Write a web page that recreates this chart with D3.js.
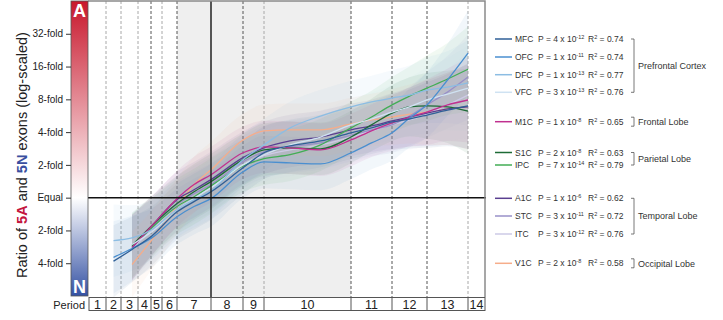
<!DOCTYPE html>
<html>
<head>
<meta charset="utf-8">
<script src="https://cdn.jsdelivr.net/npm/d3@7"></script>
<style>
  html, body { margin: 0; padding: 0; background: #fff; }
  svg { display: block; font-family: "Liberation Sans", Arial, Helvetica, sans-serif; }
</style>
</head>
<body>
<svg id="chart" width="723" height="320"></svg>
<script>
// ---- data -------------------------------------------------------------
// sample positions along the developmental axis (period units: period k spans k-1..k)
const agePos = [1.5, 2.65, 4.1, 6, 6.5, 7, 8, 9, 9.3, 9.65, 10, 10.5, 11, 11.5, 12, 12.5, 13];

// fitted log2(5A/5N) ratio for each region at those positions
const MFC = [-1.94, -1.58, -1.16, -0.43, -0.12, 0.18, 0.91, 1.37, 1.58, 1.73, 1.98, 2.13, 2.31, 2.40, 2.52, 2.67, 2.80];
const OFC = [-1.82, -1.55, -1.22, -0.58, -0.27, -0.03, 0.79, 1.09, 1.06, 1.03, 1.37, 1.67, 1.98, 2.43, 2.83, 3.59, 4.41];
const DFC = [-1.31, -1.23, -0.97, -0.36, -0.06, 0.21, 1.16, 1.61, 2.13, 2.49, 2.77, 2.92, 3.04, 3.13, 3.28, 3.37, 3.50];
const VFC = [null, -1.43, -1.03, -0.36, -0.03, 0.30, 1.00, 1.31, 1.61, 1.85, 2.22, 2.40, 2.61, 2.77, 2.98, 3.16, 3.34];
const M1C = [null, -1.52, -0.85, -0.03, 0.40, 0.70, 1.37, 1.55, 1.52, 1.46, 1.76, 2.04, 2.28, 2.46, 2.61, 2.83, 2.98];
const S1C = [null, -1.46, -0.85, -0.18, 0.18, 0.49, 1.16, 1.46, 1.52, 1.49, 1.85, 2.22, 2.58, 2.77, 2.80, 2.77, 2.64];
const IPC = [null, -1.49, -0.91, -0.27, 0.03, 0.36, 0.97, 1.19, 1.31, 1.61, 2.13, 2.46, 2.83, 3.10, 3.34, 3.62, 3.92];
const A1C = [null, -1.52, -0.85, -0.06, 0.24, 0.55, 1.22, 1.52, 1.73, 1.85, 2.07, 2.19, 2.34, 2.46, 2.58, 2.71, 2.77];
const STC = [null, -1.52, -0.91, -0.21, 0.12, 0.40, 1.09, 1.40, 1.55, 1.67, 1.91, 2.07, 2.22, 2.49, 2.83, 3.22, 3.68];
const ITC = [null, -1.55, -0.97, -0.27, 0.03, 0.30, 1.00, 1.28, 1.46, 1.61, 1.85, 2.04, 2.22, 2.37, 2.55, 2.83, 3.13];
const V1C = [null, -2.04, -1.28, -0.27, 0.40, 0.85, 1.76, 2.04, 2.07, 2.07, 2.25, 2.37, 2.46, 2.55, 2.61, 2.71, 2.77];

// half-width of the confidence band (log2 units) at each sample position
const ciHalf = [1.1, 1.0, 0.9, 0.85, 0.85, 0.85, 0.8, 0.8, 0.8, 0.8, 0.8, 0.8, 0.85, 0.9, 1.0, 1.1, 1.3];

const regions = ["MFC", "OFC", "DFC", "VFC", "M1C", "S1C", "IPC", "A1C", "STC", "ITC", "V1C"];
const regionValues = [MFC, OFC, DFC, VFC, M1C, S1C, IPC, A1C, STC, ITC, V1C];
const regionColors = ["#2f5f97", "#4a8fd0", "#8cbde3", "#cfe2f2", "#c0308f", "#1d6b36", "#42ad55",
                      "#5a3f90", "#9890c8", "#cdcae6", "#f6ad8a"];
const pMantissa = ["4", "1", "1", "3", "1", "2", "7", "1", "3", "3", "2"];
const pExponent = ["-12", "-11", "-13", "-13", "-8", "-8", "-14", "-6", "-11", "-12", "-8"];
const rSquared = ["0.74", "0.74", "0.77", "0.76", "0.65", "0.63", "0.79", "0.62", "0.72", "0.76", "0.58"];

const groupNames = ["Prefrontal Cortex", "Frontal Lobe", "Parietal Lobe", "Temporal Lobe", "Occipital Lobe"];
const groupFirst = [0, 4, 5, 7, 10];
const groupLast  = [3, 4, 6, 9, 10];

const periods = ["1","2","3","4","5","6","7","8","9","10","11","12","13","14"];
const tickValues = [5, 4, 3, 2, 1, 0, -1, -2];
const tickLabels = ["32-fold", "16-fold", "8-fold", "4-fold", "2-fold", "Equal", "2-fold", "4-fold"];

// ---- layout -----------------------------------------------------------
const svg = d3.select("#chart");
const plotTop = 1, plotBottom = 297;
const barLeft = 71, barRight = 88;
const periodEdgesPx = [89, 106, 121, 138, 151, 162, 177, 211, 243, 264, 351, 392, 427, 468, 485];
const x = d3.scaleLinear().domain(d3.range(15)).range(periodEdgesPx);
const y = d3.scaleLinear().domain([-3, 6]).range([296, 1]);
const plotLeft = x(0), plotRight = x(14);

// shaded developmental window (periods 7-10)
svg.append("rect")
  .attr("x", x(6)).attr("y", plotTop)
  .attr("width", x(10) - x(6)).attr("height", plotBottom - plotTop)
  .attr("fill", "#efefef");

// period boundary guides
const darkEdges = [4, 6, 8, 10, 11, 12];
const lightEdges = [1, 2, 3, 5, 9, 13];
svg.append("g").selectAll("line").data(lightEdges).join("line")
  .attr("x1", d => x(d)).attr("x2", d => x(d))
  .attr("y1", plotTop).attr("y2", plotBottom)
  .attr("stroke", "#a8a8a8").attr("stroke-width", 1).attr("stroke-dasharray", "3,2");
svg.append("g").selectAll("line").data(darkEdges).join("line")
  .attr("x1", d => x(d)).attr("x2", d => x(d))
  .attr("y1", plotTop).attr("y2", plotBottom)
  .attr("stroke", "#555").attr("stroke-width", 1).attr("stroke-dasharray", "3,2");

// series: confidence bands then fitted lines
const series = regions.map((r, i) => ({
  name: r, color: regionColors[i],
  pts: agePos.map((a, j) => ({ a, v: regionValues[i][j], h: ciHalf[j] })).filter(p => p.v !== null)
}));

const area = d3.area()
  .x(d => x(d.a)).y0(d => y(d.v - d.h)).y1(d => y(d.v + d.h))
  .curve(d3.curveMonotoneX);
const line = d3.line()
  .x(d => x(d.a)).y(d => y(d.v))
  .curve(d3.curveMonotoneX);

svg.append("clipPath").attr("id", "plotclip")
  .append("rect").attr("x", plotLeft).attr("y", plotTop)
  .attr("width", plotRight - plotLeft).attr("height", plotBottom - plotTop);

const gData = svg.append("g").attr("clip-path", "url(#plotclip)");
gData.selectAll("path.band").data(series).join("path")
  .attr("class", "band")
  .attr("d", d => area(d.pts))
  .attr("fill", d => d.color).attr("fill-opacity", 0.075);

// birth marker and the equal-ratio line
svg.append("line")
  .attr("x1", x(7)).attr("x2", x(7)).attr("y1", plotTop).attr("y2", plotBottom)
  .attr("stroke", "#222").attr("stroke-width", 1.5);

gData.selectAll("path.fit").data(series.slice().reverse()).join("path")
  .attr("class", "fit")
  .attr("d", d => line(d.pts))
  .attr("fill", "none").attr("stroke", d => d.color).attr("stroke-width", 1.3);

svg.append("line")
  .attr("x1", barRight).attr("x2", plotRight + 1).attr("y1", y(0)).attr("y2", y(0))
  .attr("stroke", "#111").attr("stroke-width", 1.5);

// plot frame (top and right)
svg.append("path")
  .attr("d", `M${barRight},${plotTop}H${plotRight}V${plotBottom}`)
  .attr("fill", "none").attr("stroke", "#8a8a8a").attr("stroke-width", 1.5);

// colour bar: red above equal, blue below
const defs = svg.append("defs");
const grad = defs.append("linearGradient").attr("id", "ratioGrad")
  .attr("gradientUnits", "userSpaceOnUse")
  .attr("x1", 0).attr("x2", 0).attr("y1", y(6)).attr("y2", y(-3));
grad.append("stop").attr("offset", 0).attr("stop-color", "#c8172c");
grad.append("stop").attr("offset", (y(0) - y(6)) / (y(-3) - y(6))).attr("stop-color", "#ffffff");
grad.append("stop").attr("offset", 1).attr("stop-color", "#3451a3");
svg.append("rect")
  .attr("x", barLeft).attr("y", y(6))
  .attr("width", barRight - barLeft).attr("height", y(-3) - y(6))
  .attr("fill", "url(#ratioGrad)").attr("stroke", "#555").attr("stroke-width", 0.8);
svg.append("text").attr("x", (barLeft + barRight) / 2).attr("y", 17)
  .attr("text-anchor", "middle").attr("fill", "#fff")
  .attr("font-size", 18).attr("font-weight", "bold").text("A");
svg.append("text").attr("x", (barLeft + barRight) / 2).attr("y", 293)
  .attr("text-anchor", "middle").attr("fill", "#fff")
  .attr("font-size", 18).attr("font-weight", "bold").text("N");

// y axis
const yAxis = d3.axisLeft(y).tickValues(tickValues)
  .tickFormat((d, i) => tickLabels[i]).tickSize(5).tickPadding(3);
const gy = svg.append("g").attr("transform", `translate(${barLeft},0)`).call(yAxis);
gy.select(".domain").remove();
gy.selectAll(".tick line").attr("stroke", "#333");
gy.selectAll(".tick text").attr("font-size", 10).attr("fill", "#222")
  .attr("font-family", "'Liberation Sans', Arial, sans-serif");

// y title
const title = svg.append("text")
  .attr("transform", `translate(27,${(plotTop + plotBottom) / 2 + 6}) rotate(-90)`)
  .attr("text-anchor", "middle").attr("font-size", 14.5).attr("fill", "#222");
title.append("tspan").text("Ratio of ");
title.append("tspan").text("5A").attr("fill", "#c4173f").attr("font-weight", "bold");
title.append("tspan").text(" and ");
title.append("tspan").text("5N").attr("fill", "#3a4fa0").attr("font-weight", "bold");
title.append("tspan").text(" exons (log-scaled)");

// period strip
const stripTop = 297.5, stripBottom = 310.5;
svg.append("rect").attr("x", plotLeft).attr("y", stripTop)
  .attr("width", plotRight - plotLeft).attr("height", stripBottom - stripTop)
  .attr("fill", "#fff").attr("stroke", "#555").attr("stroke-width", 1);
svg.append("g").selectAll("line").data(d3.range(1, 14)).join("line")
  .attr("x1", d => x(d)).attr("x2", d => x(d))
  .attr("y1", stripTop).attr("y2", stripBottom)
  .attr("stroke", "#555").attr("stroke-width", 1);
svg.append("g").selectAll("text").data(periods).join("text")
  .attr("x", (d, i) => (x(i) + x(i + 1)) / 2).attr("y", stripBottom - 1.5)
  .attr("text-anchor", "middle").attr("font-size", 12.5).attr("fill", "#222")
  .text(d => d);
svg.append("text").attr("x", 85).attr("y", stripBottom - 2)
  .attr("text-anchor", "end").attr("font-size", 11).attr("fill", "#222").text("Period");

// legend
const legendY = [39, 57, 74.7, 92.3, 121.7, 152.5, 165, 198.3, 216, 234, 263.3];
const lg = svg.append("g");
const rows = lg.selectAll("g").data(regions).join("g")
  .attr("transform", (d, i) => `translate(0,${legendY[i]})`);
rows.append("line").attr("x1", 495).attr("x2", 512).attr("y1", 0).attr("y2", 0)
  .attr("stroke", (d, i) => regionColors[i]).attr("stroke-width", 1.5);
rows.append("text").attr("x", 515).attr("y", 3).attr("font-size", 8.5).attr("fill", "#333")
  .text(d => d);
const pText = rows.append("text").attr("x", 538).attr("y", 3).attr("font-size", 8.5).attr("fill", "#333");
pText.append("tspan").text((d, i) => `P = ${pMantissa[i]} x 10`);
pText.append("tspan").attr("dy", -3).attr("font-size", 5.5).text((d, i) => pExponent[i]);
const rText = rows.append("text").attr("x", 588).attr("y", 3).attr("font-size", 8.5).attr("fill", "#333");
rText.append("tspan").text("R");
rText.append("tspan").attr("dy", -3).attr("font-size", 5.5).text("2");
rText.append("tspan").attr("dy", 3).text((d, i) => ` = ${rSquared[i]}`);

// region group brackets
const bx = 634;
const groups = groupNames.map((g, i) => {
  let top = legendY[groupFirst[i]], bot = legendY[groupLast[i]];
  if (top === bot) { top -= 4.5; bot += 4.5; }
  return { g, top, bot };
});
const gb = lg.append("g").selectAll("g").data(groups).join("g");
gb.append("path")
  .attr("d", d => `M${bx - 3},${d.top}H${bx}V${d.bot}H${bx - 3}`)
  .attr("fill", "none").attr("stroke", "#555").attr("stroke-width", 0.8);
gb.append("text").attr("x", bx + 4).attr("y", d => (d.top + d.bot) / 2 + 3.2)
  .attr("font-size", 9).attr("fill", "#333").text(d => d.g);
</script>
</body>
</html>
